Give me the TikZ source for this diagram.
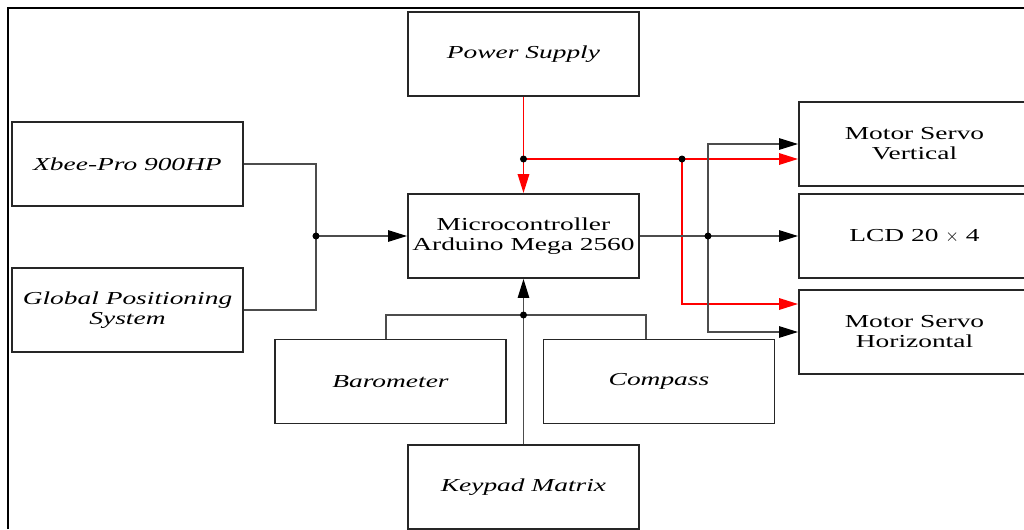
\documentclass[tikz,border=0pt]{standalone}
\usepackage{fontspec}
\setmainfont{Liberation Serif}[FakeStretch=1.5]
\usetikzlibrary{arrows.meta,calc}

\begin{document}
\begin{tikzpicture}[
  font=\fontsize{10.4}{11.4}\selectfont,
  block/.style={draw=black!85,line width=1.1pt,align=center,minimum width=4.62cm,minimum height=1.68cm,inner sep=2pt,text=black},
  inblock/.style={block,font=\fontsize{10.4}{11.4}\selectfont\itshape},
  wire/.style={draw=black!70,line width=.7pt},
  sigarrow/.style={wire,-{Triangle[length=3.8mm,width=2.3mm,color=black]}},
  pwrwire/.style={draw=red,line width=1pt},
  pwrarrow/.style={pwrwire,-{Triangle[length=3.8mm,width=2.3mm]}},
  joint/.style={circle,fill=black,inner sep=0pt,minimum size=1.4mm}
]
\useasboundingbox (-10.47,-5.86) rectangle (10.01,4.72);
\draw[line width=.8pt] (-10.31,-5.86) -- (-10.31,4.56) -- (10.01,4.56);

\node[block] (mcu) at (0,0) {Microcontroller\\Arduino Mega 2560};
\node[inblock] (power) at (0,3.64) {Power Supply};
\node[inblock] (xbee) at (-7.92,1.44) {Xbee-Pro 900HP};
\node[inblock] (gps) at (-7.92,-1.48) {Global Positioning\\System};
\node[inblock] (baro) at (-2.66,-2.91) {Barometer};
\node[inblock] (compass) at (2.71,-2.91) {Compass};
\node[inblock] (keypad) at (0,-5.02) {Keypad Matrix};
\node[block] (servov) at (7.82,1.84) {Motor Servo\\Vertical};
\node[block] (lcd) at (7.82,0) {LCD 20 $\times$ 4};
\node[block] (servoh) at (7.82,-1.92) {Motor Servo\\Horizontal};

% inputs from radio and gps
\coordinate (jin) at (-4.15,0);
\draw[wire] (xbee.east) -| (jin) |- (gps.east);
\draw[sigarrow] (jin) -- (mcu.west);
\node[joint] at (jin) {};

% sensors and keypad
\coordinate (jbus) at (0,-1.58);
\draw[wire] ($(baro.north)+(-.09,0)$) |- (jbus) -| ($(compass.north)+(-.26,0)$);
\draw[sigarrow] (keypad.north) -- (mcu.south);
\node[joint] at (jbus) {};

% supply lines
\coordinate (jpwr) at (0,1.54);
\coordinate (jred) at (3.17,1.54);
\draw[pwrwire] (power.south) -- (jpwr);
\draw[pwrarrow] (jpwr) -- (mcu.north);
\draw[pwrarrow] (jpwr) -- (jpwr -| servov.west);
\draw[pwrarrow] (jred) |- ($(servoh.west)+(0,.56)$);
\node[joint] at (jpwr) {};
\node[joint] at (jred) {};

% outputs
\coordinate (jout) at (3.69,0);
\draw[sigarrow] (mcu.east) -- (lcd.west);
\draw[sigarrow] (jout) |- (servov.west);
\draw[sigarrow] (jout) |- (servoh.west);
\node[joint] at (jout) {};
\end{tikzpicture}
\end{document}
